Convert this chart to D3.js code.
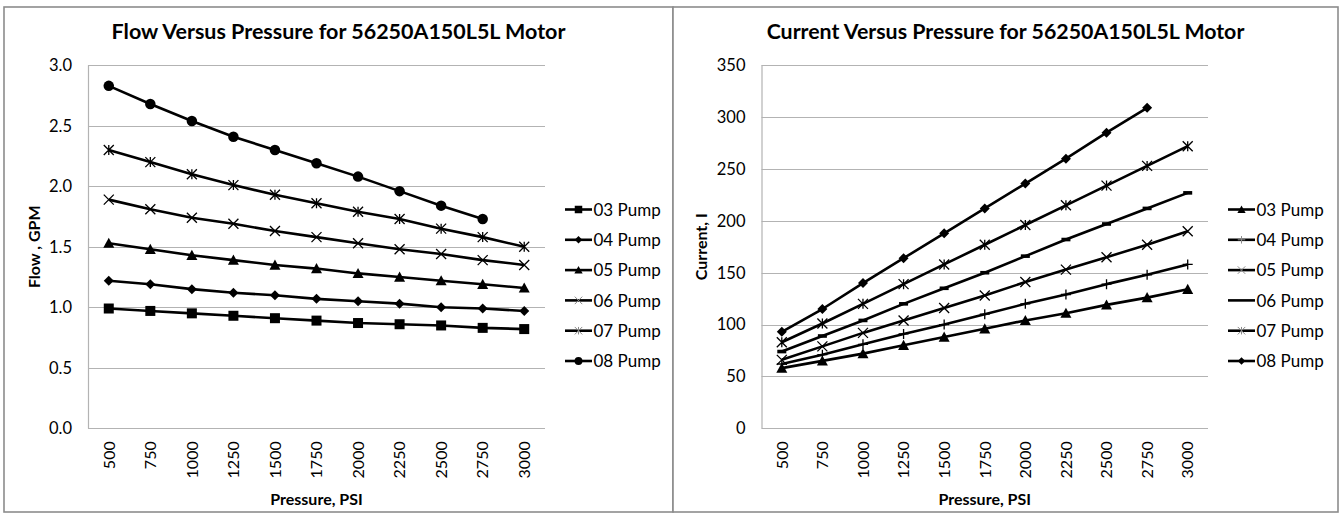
<!DOCTYPE html>
<html>
<head>
<meta charset="utf-8">
<script src="https://cdn.jsdelivr.net/npm/d3@7/dist/d3.min.js"></script>
<style>
  html, body { margin: 0; padding: 0; background: #fff; }
  svg { display: block; }
  text { font-family: Lato, "Open Sans", "Liberation Sans", sans-serif; fill: #000; }
</style>
</head>
<body>
<svg id="chart" width="1341" height="516"></svg>
<script>
// Pressure categories (PSI)
const pressures = [500, 750, 1000, 1250, 1500, 1750, 2000, 2250, 2500, 2750, 3000];
const seriesNames = ["03 Pump", "04 Pump", "05 Pump", "06 Pump", "07 Pump", "08 Pump"];

// Flow (GPM) per pump
const flow03 = [0.99, 0.97, 0.95, 0.93, 0.91, 0.89, 0.87, 0.86, 0.85, 0.83, 0.82];
const flow04 = [1.22, 1.19, 1.15, 1.12, 1.10, 1.07, 1.05, 1.03, 1.00, 0.99, 0.97];
const flow05 = [1.53, 1.48, 1.43, 1.39, 1.35, 1.32, 1.28, 1.25, 1.22, 1.19, 1.16];
const flow06 = [1.89, 1.81, 1.74, 1.69, 1.63, 1.58, 1.53, 1.48, 1.44, 1.39, 1.35];
const flow07 = [2.30, 2.20, 2.10, 2.01, 1.93, 1.86, 1.79, 1.73, 1.65, 1.58, 1.50];
const flow08 = [2.83, 2.68, 2.54, 2.41, 2.30, 2.19, 2.08, 1.96, 1.84, 1.73, null];

// Current (I) per pump
const current03 = [58, 65, 72, 80, 88, 96, 104, 111, 119, 126, 134];
const current04 = [62, 71, 81, 91, 100, 110, 120, 129, 139, 148, 158];
const current05 = [66, 79, 92, 104, 116, 128, 141, 153, 165, 177, 190];
const current06 = [74, 89, 104, 120, 135, 150, 166, 182, 197, 212, 227];
const current07 = [83, 101, 120, 139, 158, 177, 196, 215, 234, 253, 272];
const current08 = [93, 115, 140, 164, 188, 212, 236, 260, 285, 309, null];

// Axis ticks
const flowTicks = [0, 0.5, 1.0, 1.5, 2.0, 2.5, 3.0];
const currentTicks = [0, 50, 100, 150, 200, 250, 300, 350];

const svg = d3.select("#chart");

// ---------- marker glyphs ----------
function drawMarker(g, type, x, y, s, legend) {
  const thin = legend ? "#8a8a8a" : "#000";
  switch (type) {
    case "square":
      g.append("rect").attr("x", x - s / 2).attr("y", y - s / 2)
        .attr("width", s).attr("height", s).attr("fill", "#000");
      break;
    case "diamond": {
      const h = s / 2;
      g.append("path").attr("d", `M${x},${y - h}L${x + h},${y}L${x},${y + h}L${x - h},${y}Z`)
        .attr("fill", "#000");
      break;
    }
    case "triangle": {
      const h = s / 2;
      g.append("path").attr("d", `M${x},${y - h}L${x + h},${y + h * 0.85}L${x - h},${y + h * 0.85}Z`)
        .attr("fill", "#000");
      break;
    }
    case "circle":
      g.append("circle").attr("cx", x).attr("cy", y).attr("r", s / 2).attr("fill", "#000");
      break;
    case "x": {
      const h = s / 2;
      g.append("path").attr("d", `M${x - h},${y - h}L${x + h},${y + h}M${x - h},${y + h}L${x + h},${y - h}`)
        .attr("stroke", thin).attr("stroke-width", legend ? 1 : 1.3).attr("fill", "none");
      break;
    }
    case "star": {
      const h = s / 2;
      g.append("path").attr("d", `M${x - h},${y - h}L${x + h},${y + h}M${x - h},${y + h}L${x + h},${y - h}M${x},${y - h}L${x},${y + h}`)
        .attr("stroke", thin).attr("stroke-width", legend ? 1 : 1.3).attr("fill", "none");
      break;
    }
    case "plus": {
      const h = s / 2;
      g.append("path").attr("d", `M${x - h},${y}L${x + h},${y}M${x},${y - h}L${x},${y + h}`)
        .attr("stroke", thin).attr("stroke-width", legend ? 1 : 1.3).attr("fill", "none");
      break;
    }
    case "dash":
      if (!legend) {
        g.append("rect").attr("x", x - 4.5).attr("y", y - 1.8)
          .attr("width", 9).attr("height", 3.6).attr("fill", "#000");
      }
      break;
  }
}

// ---------- one chart panel ----------
function drawPanel(cfg) {
  const g = svg.append("g");

  // panel frame
  g.append("rect")
    .attr("x", cfg.frame[0]).attr("y", cfg.frame[1])
    .attr("width", cfg.frame[2] - cfg.frame[0]).attr("height", cfg.frame[3] - cfg.frame[1])
    .attr("fill", "#fff").attr("stroke", "#8c8c8c").attr("stroke-width", 1.6);

  const x = d3.scalePoint().domain(pressures).range([cfg.plot.left, cfg.plot.right]).padding(0.5);
  const y = d3.scaleLinear().domain(cfg.yDomain).range([cfg.plot.bottom, cfg.plot.top]);

  // horizontal gridlines
  g.append("g").selectAll("line").data(cfg.ticks).join("line")
    .attr("x1", cfg.plot.left).attr("x2", cfg.plot.right)
    .attr("y1", d => Math.round(y(d)) + 0.5).attr("y2", d => Math.round(y(d)) + 0.5)
    .attr("stroke", "#b3b3b3").attr("stroke-width", 1.2);

  // y axis line
  g.append("line")
    .attr("x1", cfg.plot.left + 0.5).attr("x2", cfg.plot.left + 0.5)
    .attr("y1", cfg.plot.top).attr("y2", Math.round(cfg.plot.bottom) + 0.5)
    .attr("stroke", "#b3b3b3").attr("stroke-width", 1.2);

  // y tick labels
  g.append("g").selectAll("text").data(cfg.ticks).join("text")
    .attr("x", cfg.plot.left - 16).attr("y", d => y(d))
    .attr("dy", "0.35em").attr("text-anchor", "end")
    .attr("font-size", 16.5)
    .text(cfg.tickFormat);

  // x tick labels (rotated)
  g.append("g").selectAll("text").data(pressures).join("text")
    .attr("transform", d => `translate(${x(d)},${cfg.plot.bottom + 13}) rotate(-90)`)
    .attr("dy", "0.36em").attr("text-anchor", "end")
    .attr("font-size", 16)
    .text(d => d);

  // title
  const title = g.append("text")
    .attr("x", (cfg.frame[0] + cfg.frame[2]) / 2).attr("y", 39)
    .attr("text-anchor", "middle").attr("font-weight", "bold")
    .attr("font-size", 19).text(cfg.title);
  const tw = title.node().getComputedTextLength();
  title.attr("font-size", 19 * cfg.titleWidth / tw);

  // axis titles
  g.append("text")
    .attr("x", (cfg.plot.left + cfg.plot.right) / 2).attr("y", 505)
    .attr("text-anchor", "middle").attr("font-weight", "bold").attr("font-size", 16)
    .text("Pressure, PSI");
  g.append("text")
    .attr("transform", `translate(${cfg.yTitleX},${(cfg.plot.top + cfg.plot.bottom) / 2}) rotate(-90)`)
    .attr("text-anchor", "middle").attr("font-weight", "bold").attr("font-size", 16)
    .text(cfg.yTitle);

  // series lines and markers
  const line = d3.line()
    .defined(d => d.v != null)
    .x(d => x(d.p)).y(d => y(d.v));

  cfg.series.forEach((s, i) => {
    const pts = pressures.map((p, k) => ({ p, v: s.values[k] }));
    g.append("path").datum(pts).attr("d", line)
      .attr("fill", "none").attr("stroke", "#000").attr("stroke-width", 2.6)
      .attr("stroke-linejoin", "round");
    const mg = g.append("g");
    pts.filter(d => d.v != null).forEach(d => drawMarker(mg, s.marker, x(d.p), y(d.v), s.size, false));

    // legend entry
    const ly = 209.5 + i * 30.3;
    const lx = cfg.legendX;
    g.append("line").attr("x1", lx).attr("x2", lx + 27).attr("y1", ly).attr("y2", ly)
      .attr("stroke", "#000").attr("stroke-width", 2.6);
    drawMarker(g, s.marker, lx + 13.5, ly, s.size * 0.75, true);
    g.append("text").attr("x", lx + 28.5).attr("y", ly).attr("dy", "0.36em")
      .attr("font-size", 17).text(seriesNames[i]);
  });
}

drawPanel({
  frame: [4, 7, 673, 512],
  plot: { left: 88, right: 545, top: 65.3, bottom: 428.3 },
  yDomain: [0, 3],
  ticks: flowTicks,
  tickFormat: d => d3.format(".1f")(d),
  title: "Flow Versus Pressure for 56250A150L5L Motor",
  titleWidth: 454,
  yTitle: "Flow , GPM",
  yTitleX: 40,
  legendX: 565,
  series: [
    { values: flow03, marker: "square", size: 10 },
    { values: flow04, marker: "diamond", size: 10 },
    { values: flow05, marker: "triangle", size: 11 },
    { values: flow06, marker: "x", size: 10 },
    { values: flow07, marker: "star", size: 10 },
    { values: flow08, marker: "circle", size: 10.5 }
  ]
});

drawPanel({
  frame: [673, 7, 1338, 512],
  plot: { left: 761.5, right: 1208, top: 65.3, bottom: 428.3 },
  yDomain: [0, 350],
  ticks: currentTicks,
  tickFormat: d => d,
  title: "Current Versus Pressure for 56250A150L5L Motor",
  titleWidth: 478,
  yTitle: "Current, I",
  yTitleX: 707,
  legendX: 1228,
  series: [
    { values: current03, marker: "triangle", size: 11 },
    { values: current04, marker: "plus", size: 10 },
    { values: current05, marker: "x", size: 10 },
    { values: current06, marker: "dash", size: 10 },
    { values: current07, marker: "star", size: 10 },
    { values: current08, marker: "diamond", size: 10 }
  ]
});
</script>
</body>
</html>
